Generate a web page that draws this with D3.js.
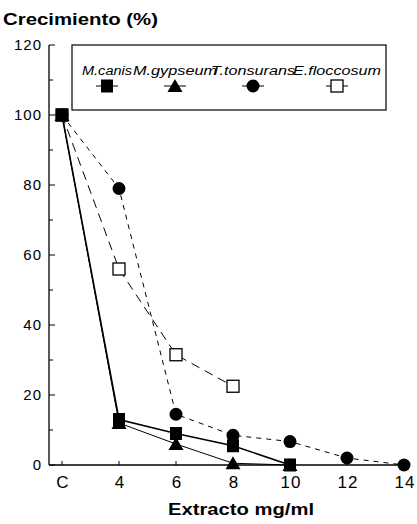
<!DOCTYPE html>
<html>
<head>
  <meta charset="utf-8">
  <script src="https://d3js.org/d3.v7.min.js"></script>
  <style>
  body {
    margin: 0;
    background: #fff;
  }
  text {
    font-family: "Liberation Sans", Arial, sans-serif;
    fill: #000;
  }
  .tick-label {
    font-size: 15px;
    letter-spacing: 1px;
  }
  .legend-label {
    font-size: 12px;
    font-style: italic;
  }
  </style>
</head>
<body>
<script>

  // doses on the x axis (C = control)
  var categories = ["C", "4", "6", "8", "10", "12", "14"];
  var yTicks = [0, 20, 40, 60, 80, 100, 120];

  // growth (%)
  var canis       = [100, 13, 9, 5.5, 0];
  var gypseum     = [100, 12, 6, 0.5, 0];
  var tonsurans   = [100, 79, 14.5, 8.5, 6.7, 2, 0];
  var floccosum   = [100, 56, 31.5, 22.5];

  var series = [
    {name: "E.floccosum", values: floccosum, symbol: "open",     dash: "9,6", width: 1},
    {name: "T.tonsurans", values: tonsurans, symbol: "circle",   dash: "5,5", width: 1},
    {name: "M.gypseum",   values: gypseum,   symbol: "triangle", dash: null,  width: 1},
    {name: "M.canis",     values: canis,     symbol: "square",   dash: null,  width: 1.6}
  ];
  var legendOrder = ["M.canis", "M.gypseum", "T.tonsurans", "E.floccosum"];

  var W = 417, H = 524;

  var svg = d3.select("body").append("svg")
    .attr("width", W)
    .attr("height", H);

  var x = d3.scalePoint().domain(categories).range([62, 404]);
  var y = d3.scaleLinear().domain([0, 120]).range([465, 45]);

  // axes lines
  svg.append("line")
    .attr("x1", 49).attr("x2", 49)
    .attr("y1", y(0)).attr("y2", y(120))
    .attr("stroke", "#000").attr("stroke-width", 1.3);
  svg.append("line")
    .attr("x1", 49).attr("x2", 410)
    .attr("y1", y(0)).attr("y2", y(0))
    .attr("stroke", "#000").attr("stroke-width", 1.3);

  // y ticks (inward), minor every 10
  d3.range(0, 121, 10).forEach(v => {
    svg.append("line")
      .attr("x1", 49).attr("x2", v % 20 === 0 ? 55 : 53)
      .attr("y1", y(v)).attr("y2", y(v))
      .attr("stroke", "#000").attr("stroke-width", 1);
  });
  svg.selectAll(".ylab")
    .data(yTicks)
    .enter().append("text")
    .attr("class", "tick-label")
    .attr("x", 42)
    .attr("y", d => y(d) + 5)
    .attr("text-anchor", "end")
    .text(d => d);

  // x ticks
  categories.forEach(c => {
    svg.append("line")
      .attr("x1", x(c)).attr("x2", x(c))
      .attr("y1", y(0)).attr("y2", y(0) - 4)
      .attr("stroke", "#000").attr("stroke-width", 1);
  });
  svg.selectAll(".xlab")
    .data(categories)
    .enter().append("text")
    .attr("class", "tick-label")
    .attr("x", d => x(d) + 1)
    .attr("y", 488)
    .attr("text-anchor", "middle")
    .style("font-size", "17px")
    .text(d => d);

  // titles
  svg.append("text")
    .attr("x", 3).attr("y", 25)
    .attr("textLength", 155)
    .attr("lengthAdjust", "spacingAndGlyphs")
    .style("font-size", "17px").style("font-weight", "bold")
    .text("Crecimiento (%)");
  svg.append("text")
    .attr("x", 168).attr("y", 515)
    .attr("textLength", 146)
    .attr("lengthAdjust", "spacingAndGlyphs")
    .style("font-size", "17px").style("font-weight", "bold")
    .text("Extracto mg/ml");

  function drawSymbol(g, kind, cx, cy) {
    if (kind === "square") {
      g.append("rect").attr("x", cx - 6).attr("y", cy - 6.5)
        .attr("width", 12).attr("height", 13).attr("fill", "#000");
    } else if (kind === "triangle") {
      g.append("path")
        .attr("d", "M" + cx + "," + (cy - 7) + "L" + (cx + 7.5) + "," + (cy + 6) + "L" + (cx - 7.5) + "," + (cy + 6) + "Z")
        .attr("fill", "#000");
    } else if (kind === "circle") {
      g.append("circle").attr("cx", cx).attr("cy", cy).attr("r", 6.5).attr("fill", "#000");
    } else {
      g.append("rect").attr("x", cx - 6).attr("y", cy - 6)
        .attr("width", 12).attr("height", 12)
        .attr("fill", "#fff").attr("stroke", "#000").attr("stroke-width", 1.3);
    }
  }

  var line = d3.line()
    .x((d, i) => x(categories[i]))
    .y(d => y(d));

  // lines first, then markers
  series.forEach(s => {
    svg.append("path")
      .datum(s.values)
      .attr("d", line)
      .attr("fill", "none")
      .attr("stroke", "#000")
      .attr("stroke-width", s.width)
      .attr("stroke-dasharray", s.dash);
  });
  series.forEach(s => {
    var g = svg.append("g");
    s.values.forEach((v, i) => drawSymbol(g, s.symbol, x(categories[i]), y(v)));
  });

  // legend
  var legendX = [107, 175, 253, 337];
  var legendW = [50, 84, 84, 88];
  var legend = svg.append("g");
  legend.append("rect")
    .attr("x", 72).attr("y", 45)
    .attr("width", 314).attr("height", 65)
    .attr("fill", "#fff").attr("stroke", "#000").attr("stroke-width", 1.2);
  legendOrder.forEach((name, i) => {
    var s = series.find(d => d.name === name);
    var lx = legendX[i];
    legend.append("line")
      .attr("x1", lx - 11).attr("x2", lx + 11)
      .attr("y1", 86).attr("y2", 86)
      .attr("stroke", "#000").attr("stroke-width", 1);
    drawSymbol(legend, s.symbol, lx, 86);
    legend.append("text")
      .attr("class", "legend-label")
      .attr("x", lx - legendW[i] / 2).attr("y", 75)
      .attr("textLength", legendW[i])
      .attr("lengthAdjust", "spacingAndGlyphs")
      .text(name);
  });

</script>
</body>
</html>
